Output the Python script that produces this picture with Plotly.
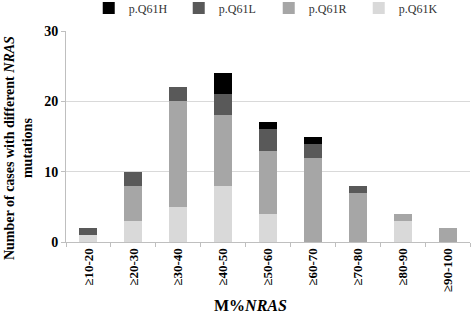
import plotly.graph_objects as go

categories = ["≥10-20", "≥20-30", "≥30-40", "≥40-50", "≥50-60", "≥60-70", "≥70-80", "≥80-90", "≥90-100"]
q61k = [1, 3, 5, 8, 4, 0, 0, 3, 0]
q61r = [0, 5, 15, 10, 9, 12, 7, 1, 2]
q61l = [1, 2, 2, 3, 3, 2, 1, 0, 0]
q61h = [0, 0, 0, 3, 1, 1, 0, 0, 0]
y_ticks = [0, 10, 20, 30]

series = [
    ("p.Q61K", q61k, "#d9d9d9"),
    ("p.Q61R", q61r, "#a6a6a6"),
    ("p.Q61L", q61l, "#595959"),
    ("p.Q61H", q61h, "#000000"),
]

SERIF = "Liberation Serif, Times New Roman, serif"

fig = go.Figure()
for name, vals, color in series:
    fig.add_trace(go.Bar(x=categories, y=vals, name=name, marker=dict(color=color, line=dict(width=0)),
                         width=0.4))

fig.update_layout(
    width=472, height=315,
    margin=dict(l=66, r=2, t=31, b=73, autoexpand=False),
    paper_bgcolor="white", plot_bgcolor="white",
    barmode="stack",
    font=dict(family=SERIF, color="#000000"),
    showlegend=True,
    legend=dict(orientation="h", traceorder="reversed", xref="container", x=0.188, xanchor="left",
                yref="paper", y=1.109, yanchor="middle",
                entrywidth=45, entrywidthmode="pixels", itemwidth=30,
                font=dict(family=SERIF, size=12, color="#333333")),
    xaxis=dict(type="category", showline=True, linecolor="#bfbfbf", linewidth=1,
               ticks="outside", tickson="boundaries", ticklen=4, tickcolor="#bfbfbf",
               tickangle=-90, tickfont=dict(family=SERIF, size=13, color="#000000", weight="bold"),
               showgrid=False, automargin=False),
    yaxis=dict(range=[0, 30], tickvals=y_ticks, showline=True, linecolor="#bfbfbf", linewidth=1,
               ticks="outside", ticklen=4, tickcolor="#bfbfbf",
               gridcolor="#d9d9d9", gridwidth=1, zeroline=False, automargin=False,
               tickfont=dict(family=SERIF, size=14, color="#000000", weight="bold")),
    annotations=[
        dict(text="Number of cases with different <i>NRAS</i><br>mutations", xref="paper", yref="paper",
             x=-0.119, y=0.445, xanchor="center", yanchor="middle", textangle=-90, showarrow=False,
             font=dict(family=SERIF, size=14, color="#000000", weight="bold")),
        dict(text="M%<i>NRAS</i>", xref="paper", yref="paper", x=0.457, y=-0.303, xanchor="center",
             yanchor="middle", showarrow=False,
             font=dict(family=SERIF, size=16, color="#000000", weight="bold")),
    ],
)

fig.write_html("out.html", config={"displayModeBar": False},
               post_script="document.body.style.margin='0';")
